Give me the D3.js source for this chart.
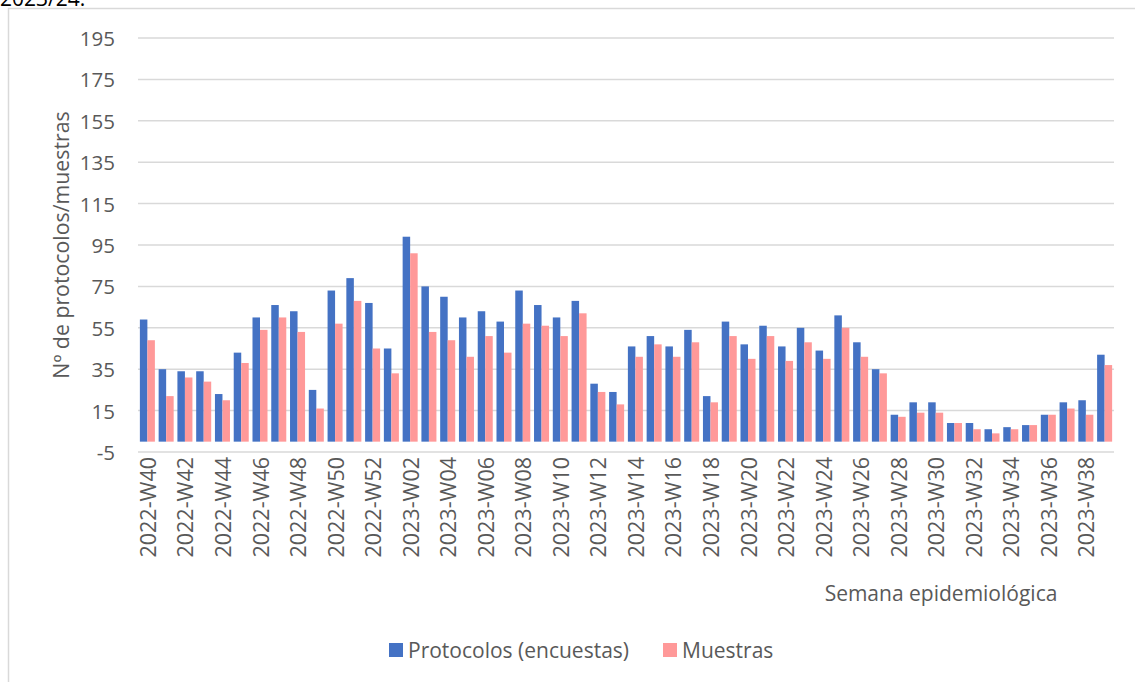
<!DOCTYPE html>
<html>
<head>
<meta charset="utf-8">
<script src="https://cdn.jsdelivr.net/npm/d3@7"></script>
<style>
  html, body { margin: 0; padding: 0; background: #fff; }
  svg { display: block; }
  text { font-family: "Open Sans", "Noto Sans", sans-serif; }
</style>
</head>
<body>
<svg id="chart" width="1135" height="682"></svg>
<script>
const categories = [
  "2022-W40","2022-W41","2022-W42","2022-W43","2022-W44","2022-W45","2022-W46","2022-W47","2022-W48","2022-W49","2022-W50","2022-W51","2022-W52",
  "2023-W01","2023-W02","2023-W03","2023-W04","2023-W05","2023-W06","2023-W07","2023-W08","2023-W09","2023-W10",
  "2023-W11","2023-W12","2023-W13","2023-W14","2023-W15","2023-W16","2023-W17","2023-W18","2023-W19","2023-W20",
  "2023-W21","2023-W22","2023-W23","2023-W24","2023-W25","2023-W26","2023-W27","2023-W28","2023-W29","2023-W30",
  "2023-W31","2023-W32","2023-W33","2023-W34","2023-W35","2023-W36","2023-W37","2023-W38","2023-W39"
];
const protocolos = [59,35,34,34,23,43,60,66,63,25,73,79,67,
  45,99,75,70,60,63,58,73,66,60,
  68,28,24,46,51,46,54,22,58,47,
  56,46,55,44,61,48,35,13,19,19,
  9,9,6,7,8,13,19,20,42];
const muestras = [49,22,31,29,20,38,54,60,53,16,57,68,45,
  33,91,53,49,41,51,43,57,56,51,
  62,24,18,41,47,41,48,19,51,40,
  51,39,48,40,55,41,33,12,14,14,
  9,6,4,6,8,13,16,13,37];
const seriesNames = ["Protocolos (encuestas)", "Muestras"];
const seriesColors = ["#4472C4", "#FF9999"];
const yTicks = [-5,15,35,55,75,95,115,135,155,175,195];

const svg = d3.select("#chart");
const textColor = "#595959";
const gridColor = "#d9d9d9";

// partial caption at top (cut off in the reference too)
svg.append("text").attr("x", 0).attr("y", 6)
  .attr("font-size", 21).attr("fill", "#000").text("2023/24.");

// chart border
svg.append("rect").attr("x", 8.5).attr("y", 8.5).attr("width", 1140).attr("height", 690)
  .attr("fill", "none").attr("stroke", gridColor).attr("stroke-width", 1.5);

const x = d3.scaleBand().domain(categories).range([138, 1114]).paddingInner(0.2).paddingOuter(0.1);
const xs = d3.scaleBand().domain([0, 1]).range([0, x.bandwidth()]);
const y = d3.scaleLinear().domain([-5, 195]).range([452, 38]);

// gridlines
svg.append("g").selectAll("line").data(yTicks).join("line")
  .attr("x1", 138).attr("x2", 1114)
  .attr("y1", d => y(d)).attr("y2", d => y(d))
  .attr("stroke", gridColor).attr("stroke-width", 1.5);

// y tick labels
svg.append("g").selectAll("text").data(yTicks).join("text")
  .attr("x", 115).attr("y", d => y(d))
  .attr("text-anchor", "end").attr("dominant-baseline", "central")
  .attr("font-size", 20.5).attr("fill", textColor).text(d => d);

// bars
const seriesData = [protocolos, muestras];
seriesData.forEach((vals, si) => {
  svg.append("g").selectAll("rect").data(vals).join("rect")
    .attr("x", (d, i) => x(categories[i]) + xs(si))
    .attr("width", xs.bandwidth())
    .attr("y", d => y(Math.max(0, d)))
    .attr("height", d => Math.abs(y(d) - y(0)))
    .attr("fill", seriesColors[si]);
});

// x labels every other category
const xLabels = categories.filter((c, i) => i % 2 === 0);
svg.append("g").selectAll("text").data(xLabels).join("text")
  .attr("transform", d => `translate(${x(d) + x.bandwidth() / 2},457) rotate(-90)`)
  .attr("text-anchor", "end").attr("dominant-baseline", "central")
  .attr("font-size", 21.5).attr("fill", textColor).text(d => d);

// axis titles
svg.append("text")
  .attr("transform", "translate(60,245) rotate(-90)")
  .attr("text-anchor", "middle").attr("dominant-baseline", "central")
  .attr("font-size", 21.3).attr("fill", textColor).text("Nº de protocolos/muestras");

svg.append("text").attr("x", 941).attr("y", 593)
  .attr("text-anchor", "middle").attr("dominant-baseline", "central")
  .attr("font-size", 21).attr("fill", textColor).text("Semana epidemiológica");

// legend
const legendItems = [
  { name: seriesNames[0], color: seriesColors[0], x: 389 },
  { name: seriesNames[1], color: seriesColors[1], x: 663 }
];
const lg = svg.append("g");
legendItems.forEach(it => {
  lg.append("rect").attr("x", it.x).attr("y", 643).attr("width", 14).attr("height", 14).attr("fill", it.color);
  lg.append("text").attr("x", it.x + 19).attr("y", 650).attr("dominant-baseline", "central")
    .attr("font-size", 21).attr("fill", textColor).text(it.name);
});
</script>
</body>
</html>
